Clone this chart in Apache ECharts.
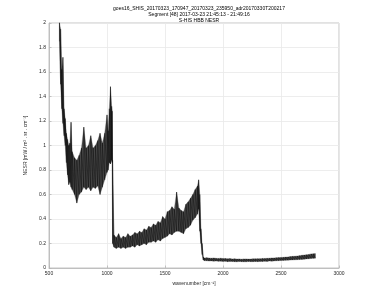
<!DOCTYPE html>
<html>
<head>
<meta charset="utf-8">
<script src="https://cdn.jsdelivr.net/npm/echarts@6/dist/echarts.min.js"></script>
<style>html,body{margin:0;padding:0;background:#fff}#c{width:375px;height:301px}</style>
</head>
<body>
<div id="c"></div>
<script>
// Wavenumber samples [cm^-1]
var wavenumber = [590,600,610,620,630,640,650,660,670,680,690,700,720,740,760,780,800,820,840,860,880,900,920,940,960,980,1000,1010,1020,1030,1040,1045,
1048,1060,1080,1100,1120,1140,1160,1180,1200,1220,1240,1260,1280,1300,1320,1340,1360,1380,1400,1420,1440,1460,1480,1500,1520,1540,1560,1580,1600,1620,1640,1660,1680,1700,1720,1740,1760,1780,1790,1800,1810,1820,1830,
1840,1860,1880,1900,1920,1940,1960,1980,2000,2020,2040,2060,2080,2100,2120,2140,2160,2180,2200,2220,2240,2260,2280,2300,2320,2340,2360,2380,2400,2420,2440,2460,2480,2500,2520,2540,2560,2580,2600,2620,2640,2660,2680,2700,2720,2740,2760,2780,2795];
// Lower envelope of the noisy NESR trace
var nesrLow = [1.85,1.50,1.30,1.18,1.08,1.00,0.86,0.76,0.68,0.70,0.66,0.64,0.60,0.53,0.60,0.62,0.66,0.64,0.66,0.63,0.66,0.65,0.67,0.60,0.66,0.72,0.78,0.80,0.86,0.85,0.88,0.86,
0.20,0.17,0.16,0.17,0.16,0.17,0.16,0.17,0.17,0.18,0.17,0.19,0.18,0.19,0.20,0.19,0.21,0.21,0.22,0.21,0.23,0.22,0.24,0.25,0.26,0.28,0.27,0.29,0.30,0.30,0.29,0.28,0.32,0.33,0.35,0.39,0.41,0.44,0.48,0.30,0.20,0.11,0.065,
0.060,0.059,0.057,0.058,0.056,0.057,0.055,0.056,0.054,0.055,0.052,0.054,0.053,0.052,0.051,0.053,0.052,0.051,0.051,0.053,0.052,0.052,0.053,0.052,0.054,0.053,0.055,0.054,0.057,0.056,0.058,0.059,0.060,0.061,0.062,0.063,0.064,0.065,0.066,0.067,0.068,0.069,0.070,0.072,0.074,0.075,0.078,0.079,0.080];
// Upper envelope of the noisy NESR trace
var nesrHigh = [2.05,1.95,1.62,1.72,1.30,1.22,1.10,1.05,1.00,1.02,1.19,0.95,0.90,0.88,0.92,0.98,1.15,0.98,1.00,1.08,0.98,1.00,1.04,1.10,1.02,1.10,1.25,1.12,1.30,1.48,1.32,1.28,
0.88,0.27,0.25,0.28,0.24,0.26,0.25,0.28,0.26,0.27,0.29,0.28,0.30,0.29,0.32,0.31,0.34,0.33,0.36,0.35,0.38,0.37,0.42,0.40,0.46,0.47,0.50,0.48,0.62,0.49,0.47,0.46,0.52,0.54,0.57,0.60,0.64,0.67,0.72,0.60,0.32,0.20,0.090,
0.082,0.084,0.081,0.080,0.082,0.079,0.078,0.080,0.077,0.078,0.075,0.077,0.074,0.075,0.073,0.074,0.072,0.074,0.074,0.073,0.073,0.075,0.075,0.076,0.076,0.078,0.078,0.079,0.080,0.082,0.082,0.084,0.085,0.086,0.087,0.089,0.090,0.093,0.095,0.096,0.098,0.101,0.104,0.106,0.108,0.111,0.115,0.116,0.118];

var xTicks = [500,1000,1500,2000,2500,3000];
var yTicks = [0,0.2,0.4,0.6,0.8,1,1.2,1.4,1.6,1.8,2];

var titleLines = ['goes16_SHIS_20170323_170947_20170323_235950_adr20170330T200217',
                  'Segment [48] 2017-03-23 21:45:13 - 21:49:16',
                  'S-HIS HBB NESR'];

var bandData = wavenumber.map(function (w, i) { return [w, nesrLow[i], nesrHigh[i]]; });
var trace = [];
for (var i = 0; i < wavenumber.length; i++) {
  trace.push([wavenumber[i], nesrLow[i]]);
  trace.push([wavenumber[i], nesrHigh[i]]);
}

var FONT = 'Liberation Sans';
var labelStyle = {fontFamily: FONT, fontSize: 5, color: '#262626', margin: 3};
var chart = echarts.init(document.getElementById('c'), null, {renderer: 'canvas'});
chart.setOption({
  animation: false,
  backgroundColor: '#ffffff',
  title: titleLines.map(function (t, k) {
    return {
      text: t, left: 194, top: 1 + k * 6.3, textAlign: 'center',
      textStyle: {fontFamily: FONT, fontSize: 5, fontWeight: 'normal', color: '#000'}
    };
  }),
  grid: {left: 49, right: 36, top: 23, bottom: 33, show: true, borderColor: '#b5b5b5', borderWidth: 0.8, backgroundColor: '#fff'},
  xAxis: {
    type: 'value', min: xTicks[0], max: xTicks[xTicks.length - 1], interval: 500,
    name: 'wavenumber [cm⁻¹]', nameLocation: 'middle', nameGap: 13,
    nameTextStyle: {fontFamily: FONT, fontSize: 5, color: '#262626'},
    axisLine: {show: true, lineStyle: {color: '#b5b5b5', width: 0.8}},
    axisTick: {show: true, inside: true, length: 2.5, lineStyle: {color: '#b5b5b5', width: 0.8}},
    axisLabel: Object.assign({formatter: function (v) { return String(v); }}, labelStyle),
    splitLine: {show: true, lineStyle: {color: '#e8e8e8', width: 0.8}}
  },
  yAxis: {
    type: 'value', min: yTicks[0], max: yTicks[yTicks.length - 1], interval: 0.2,
    name: 'NESR [mW / m² . sr . cm⁻¹]', nameLocation: 'middle', nameGap: 13, nameRotate: 90,
    nameTextStyle: {fontFamily: FONT, fontSize: 5, color: '#262626'},
    axisLine: {show: true, lineStyle: {color: '#b5b5b5', width: 0.8}},
    axisTick: {show: true, inside: true, length: 2.5, lineStyle: {color: '#b5b5b5', width: 0.8}},
    axisLabel: Object.assign({formatter: function (v) { return String(Math.round(v * 10) / 10); }}, labelStyle),
    splitLine: {show: true, lineStyle: {color: '#e8e8e8', width: 0.8}}
  },
  series: [{
    type: 'custom',
    data: bandData,
    encode: {x: 0, y: [1, 2]},
    clip: true,
    renderItem: function (params, api) {
      if (params.dataIndex !== 0) return null;
      var top = [], bottom = [];
      for (var j = 0; j < bandData.length; j++) {
        top.push(api.coord([bandData[j][0], bandData[j][2]]));
        bottom.unshift(api.coord([bandData[j][0], bandData[j][1]]));
      }
      var cs = params.coordSys;
      var pts = echarts.graphic.clipPointsByRect(top.concat(bottom), {x: cs.x, y: cs.y, width: cs.width, height: cs.height});
      return {type: 'polygon', shape: {points: pts}, style: {fill: '#1a1a1a', opacity: 0.8, stroke: '#555', lineWidth: 0.4}};
    }
  }, {
    type: 'line', data: trace, showSymbol: false, symbol: 'none', clip: true,
    lineStyle: {color: '#000', width: 0.5, opacity: 0.8}
  }]
});
</script>
</body>
</html>
